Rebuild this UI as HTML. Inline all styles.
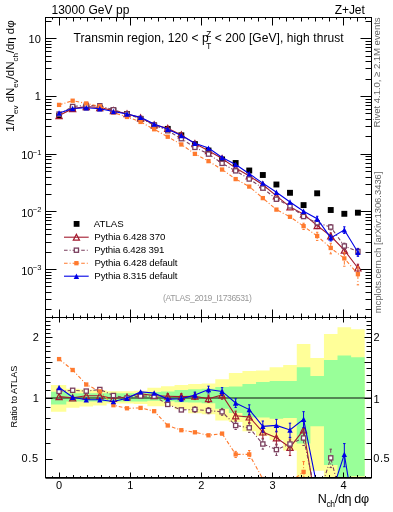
<!DOCTYPE html>
<html><head><meta charset="utf-8"><style>
html,body{margin:0;padding:0;background:#fff;}
svg{display:block;will-change:transform;font-family:"Liberation Sans",sans-serif;}
text{fill-opacity:1;}
</style></head><body>
<svg width="393" height="512" viewBox="0 0 393 512">
<rect width="393" height="512" fill="#fff"/>
<defs>
<clipPath id="ct"><rect x="45.5" y="17.5" width="326.0" height="300.0"/></clipPath>
<clipPath id="cr"><rect x="45.5" y="317.5" width="326.0" height="160.0"/></clipPath>
</defs>
<path d="M51.00,384.96H66.30V388.83H79.46V389.47H93.04V390.19H106.62V391.24H120.21V391.24H133.79V390.67H147.37V387.73H160.96V386.18H174.54V384.88H188.12V383.98H201.70V383.38H215.29V379.31H228.87V372.94H242.45V370.99H256.04V370.60H269.62V367.19H283.20V364.93H296.79V343.95H310.37V358.03H323.95V334.08H337.53V327.14H351.12V329.13H364.70V477.50H351.12V477.50H337.53V477.50H323.95V470.73H310.37V477.50H296.79V450.52H283.20V440.00H269.62V435.85H256.04V431.24H242.45V422.11H228.87V420.51H215.29V414.37H201.70V413.32H188.12V409.23H174.54V406.29H160.96V406.29H147.37V404.00H133.79V403.44H120.21V403.44H106.62V405.52H93.04V406.48H79.46V407.75H66.30V411.76H51.00Z" fill="#ffff99"/>
<path d="M51.00,391.81H66.30V393.30H79.46V393.30H93.04V393.30H106.62V393.30H120.21V393.30H133.79V393.30H147.37V391.97H160.96V391.40H174.54V389.95H188.12V389.23H201.70V388.83H215.29V387.11H228.87V386.49H242.45V383.91H256.04V381.98H269.62V380.89H283.20V380.89H296.79V367.19H310.37V375.90H323.95V360.06H337.53V355.62H351.12V357.26H364.70V476.33H351.12V477.50H337.53V465.09H323.95V426.25H310.37V443.62H296.79V418.05H283.20V418.71H269.62V417.60H256.04V417.60H242.45V413.01H228.87V408.73H215.29V403.16H201.70V402.60H188.12V402.23H174.54V401.22H160.96V400.68H147.37V401.40H133.79V401.40H120.21V401.40H106.62V401.40H93.04V401.40H79.46V401.40H66.30V404.47H51.00Z" fill="#99ff99"/>
<line x1="45.5" y1="398" x2="371.5" y2="398" stroke="#111" stroke-width="1.2"/>
<rect x="56.13" y="113.05" width="5.90" height="5.90" fill="#000"/>
<rect x="69.72" y="105.75" width="5.90" height="5.90" fill="#000"/>
<rect x="83.30" y="104.35" width="5.90" height="5.90" fill="#000"/>
<rect x="96.88" y="105.25" width="5.90" height="5.90" fill="#000"/>
<rect x="110.47" y="107.55" width="5.90" height="5.90" fill="#000"/>
<rect x="124.05" y="111.05" width="5.90" height="5.90" fill="#000"/>
<rect x="137.63" y="116.15" width="5.90" height="5.90" fill="#000"/>
<rect x="151.21" y="122.55" width="5.90" height="5.90" fill="#000"/>
<rect x="164.80" y="125.95" width="5.90" height="5.90" fill="#000"/>
<rect x="178.38" y="132.35" width="5.90" height="5.90" fill="#000"/>
<rect x="191.96" y="141.15" width="5.90" height="5.90" fill="#000"/>
<rect x="205.55" y="147.55" width="5.90" height="5.90" fill="#000"/>
<rect x="219.13" y="156.45" width="5.90" height="5.90" fill="#000"/>
<rect x="232.71" y="160.05" width="5.90" height="5.90" fill="#000"/>
<rect x="246.30" y="167.55" width="5.90" height="5.90" fill="#000"/>
<rect x="259.88" y="172.05" width="5.90" height="5.90" fill="#000"/>
<rect x="273.46" y="181.55" width="5.90" height="5.90" fill="#000"/>
<rect x="287.04" y="189.85" width="5.90" height="5.90" fill="#000"/>
<rect x="300.63" y="202.15" width="5.90" height="5.90" fill="#000"/>
<rect x="314.21" y="190.35" width="5.90" height="5.90" fill="#000"/>
<rect x="327.79" y="207.05" width="5.90" height="5.90" fill="#000"/>
<rect x="341.38" y="210.85" width="5.90" height="5.90" fill="#000"/>
<rect x="354.96" y="209.75" width="5.90" height="5.90" fill="#000"/>
<g clip-path="url(#ct)">
<path d="M59.08,115.60 L72.67,108.64 L86.25,106.67 L99.83,107.57 L113.42,110.64 L127.00,113.71 L140.58,117.87 L154.16,124.82 L167.75,128.39 L181.33,134.90 L194.91,143.59 L208.50,150.70 L222.08,158.52 L235.66,168.08 L249.25,175.92 L262.83,184.70 L276.41,195.85 L289.99,206.89 L303.58,214.17 L317.16,225.60 L330.74,236.00 L344.33,250.20 L357.91,268.00" fill="none" stroke="#a31a2e" stroke-width="1.1"/>
<path d="M303.58,211.78V216.81M302.38,211.78h2.4M302.38,216.81h2.4M317.16,222.92V228.60M315.96,222.92h2.4M315.96,228.60h2.4M330.74,232.99V239.42M329.54,232.99h2.4M329.54,239.42h2.4M344.33,246.82V254.10M343.13,246.82h2.4M343.13,254.10h2.4M357.91,264.22V272.46M356.71,264.22h2.4M356.71,272.46h2.4" fill="none" stroke="#a31a2e" stroke-width="1"/>
<polygon points="55.98,118.60 62.18,118.60 59.08,112.60" fill="none" stroke="#a31a2e" stroke-width="1.2"/>
<polygon points="69.57,111.64 75.77,111.64 72.67,105.64" fill="none" stroke="#a31a2e" stroke-width="1.2"/>
<polygon points="83.15,109.67 89.35,109.67 86.25,103.67" fill="none" stroke="#a31a2e" stroke-width="1.2"/>
<polygon points="96.73,110.57 102.93,110.57 99.83,104.57" fill="none" stroke="#a31a2e" stroke-width="1.2"/>
<polygon points="110.32,113.64 116.52,113.64 113.42,107.64" fill="none" stroke="#a31a2e" stroke-width="1.2"/>
<polygon points="123.90,116.71 130.10,116.71 127.00,110.71" fill="none" stroke="#a31a2e" stroke-width="1.2"/>
<polygon points="137.48,120.87 143.68,120.87 140.58,114.87" fill="none" stroke="#a31a2e" stroke-width="1.2"/>
<polygon points="151.06,127.82 157.26,127.82 154.16,121.82" fill="none" stroke="#a31a2e" stroke-width="1.2"/>
<polygon points="164.65,131.39 170.85,131.39 167.75,125.39" fill="none" stroke="#a31a2e" stroke-width="1.2"/>
<polygon points="178.23,137.90 184.43,137.90 181.33,131.90" fill="none" stroke="#a31a2e" stroke-width="1.2"/>
<polygon points="191.81,146.59 198.01,146.59 194.91,140.59" fill="none" stroke="#a31a2e" stroke-width="1.2"/>
<polygon points="205.40,153.70 211.60,153.70 208.50,147.70" fill="none" stroke="#a31a2e" stroke-width="1.2"/>
<polygon points="218.98,161.52 225.18,161.52 222.08,155.52" fill="none" stroke="#a31a2e" stroke-width="1.2"/>
<polygon points="232.56,171.08 238.76,171.08 235.66,165.08" fill="none" stroke="#a31a2e" stroke-width="1.2"/>
<polygon points="246.15,178.92 252.34,178.92 249.25,172.92" fill="none" stroke="#a31a2e" stroke-width="1.2"/>
<polygon points="259.73,187.70 265.93,187.70 262.83,181.70" fill="none" stroke="#a31a2e" stroke-width="1.2"/>
<polygon points="273.31,198.85 279.51,198.85 276.41,192.85" fill="none" stroke="#a31a2e" stroke-width="1.2"/>
<polygon points="286.89,209.89 293.09,209.89 289.99,203.89" fill="none" stroke="#a31a2e" stroke-width="1.2"/>
<polygon points="300.48,217.17 306.68,217.17 303.58,211.17" fill="none" stroke="#a31a2e" stroke-width="1.2"/>
<polygon points="314.06,228.60 320.26,228.60 317.16,222.60" fill="none" stroke="#a31a2e" stroke-width="1.2"/>
<polygon points="327.64,239.00 333.84,239.00 330.74,233.00" fill="none" stroke="#a31a2e" stroke-width="1.2"/>
<polygon points="341.23,253.20 347.43,253.20 344.33,247.20" fill="none" stroke="#a31a2e" stroke-width="1.2"/>
<polygon points="354.81,271.00 361.01,271.00 357.91,265.00" fill="none" stroke="#a31a2e" stroke-width="1.2"/>
</g>
<g clip-path="url(#ct)">
<path d="M59.08,114.12 L72.67,106.50 L86.25,105.33 L99.83,105.78 L113.42,109.79 L127.00,114.00 L140.58,118.53 L154.16,125.02 L167.75,130.73 L181.33,138.69 L194.91,147.38 L208.50,154.09 L222.08,163.34 L235.66,170.84 L249.25,179.00 L262.83,188.12 L276.41,199.22 L289.99,205.92 L303.58,216.51 L317.16,222.80 L330.74,227.08 L344.33,246.00 L357.91,251.50" fill="none" stroke="#7a3f5e" stroke-width="1.1" stroke-dasharray="3.6,2,1,2"/>
<path d="M330.74,224.60V229.85M329.54,224.60h2.4M329.54,229.85h2.4M344.33,243.20V249.15M343.13,243.20h2.4M343.13,249.15h2.4M357.91,248.36V255.09M356.71,248.36h2.4M356.71,255.09h2.4" fill="none" stroke="#7a3f5e" stroke-width="1" stroke-dasharray="3.6,2,1,2"/>
<rect x="56.98" y="112.02" width="4.20" height="4.20" fill="#fff" stroke="#7a3f5e" stroke-width="1.3"/>
<rect x="70.57" y="104.40" width="4.20" height="4.20" fill="#fff" stroke="#7a3f5e" stroke-width="1.3"/>
<rect x="84.15" y="103.23" width="4.20" height="4.20" fill="#fff" stroke="#7a3f5e" stroke-width="1.3"/>
<rect x="97.73" y="103.68" width="4.20" height="4.20" fill="#fff" stroke="#7a3f5e" stroke-width="1.3"/>
<rect x="111.32" y="107.69" width="4.20" height="4.20" fill="#fff" stroke="#7a3f5e" stroke-width="1.3"/>
<rect x="124.90" y="111.90" width="4.20" height="4.20" fill="#fff" stroke="#7a3f5e" stroke-width="1.3"/>
<rect x="138.48" y="116.43" width="4.20" height="4.20" fill="#fff" stroke="#7a3f5e" stroke-width="1.3"/>
<rect x="152.06" y="122.92" width="4.20" height="4.20" fill="#fff" stroke="#7a3f5e" stroke-width="1.3"/>
<rect x="165.65" y="128.63" width="4.20" height="4.20" fill="#fff" stroke="#7a3f5e" stroke-width="1.3"/>
<rect x="179.23" y="136.59" width="4.20" height="4.20" fill="#fff" stroke="#7a3f5e" stroke-width="1.3"/>
<rect x="192.81" y="145.28" width="4.20" height="4.20" fill="#fff" stroke="#7a3f5e" stroke-width="1.3"/>
<rect x="206.40" y="151.99" width="4.20" height="4.20" fill="#fff" stroke="#7a3f5e" stroke-width="1.3"/>
<rect x="219.98" y="161.24" width="4.20" height="4.20" fill="#fff" stroke="#7a3f5e" stroke-width="1.3"/>
<rect x="233.56" y="168.74" width="4.20" height="4.20" fill="#fff" stroke="#7a3f5e" stroke-width="1.3"/>
<rect x="247.15" y="176.90" width="4.20" height="4.20" fill="#fff" stroke="#7a3f5e" stroke-width="1.3"/>
<rect x="260.73" y="186.02" width="4.20" height="4.20" fill="#fff" stroke="#7a3f5e" stroke-width="1.3"/>
<rect x="274.31" y="197.12" width="4.20" height="4.20" fill="#fff" stroke="#7a3f5e" stroke-width="1.3"/>
<rect x="287.89" y="203.82" width="4.20" height="4.20" fill="#fff" stroke="#7a3f5e" stroke-width="1.3"/>
<rect x="301.48" y="214.41" width="4.20" height="4.20" fill="#fff" stroke="#7a3f5e" stroke-width="1.3"/>
<rect x="315.06" y="220.70" width="4.20" height="4.20" fill="#fff" stroke="#7a3f5e" stroke-width="1.3"/>
<rect x="328.64" y="224.98" width="4.20" height="4.20" fill="#fff" stroke="#7a3f5e" stroke-width="1.3"/>
<rect x="342.23" y="243.90" width="4.20" height="4.20" fill="#fff" stroke="#7a3f5e" stroke-width="1.3"/>
<rect x="355.81" y="249.40" width="4.20" height="4.20" fill="#fff" stroke="#7a3f5e" stroke-width="1.3"/>
</g>
<g clip-path="url(#ct)">
<path d="M59.08,104.90 L72.67,100.71 L86.25,103.45 L99.83,106.32 L113.42,112.55 L127.00,116.94 L140.58,121.92 L154.16,129.26 L167.75,136.74 L181.33,144.48 L194.91,153.88 L208.50,161.14 L222.08,169.55 L235.66,179.09 L249.25,186.59 L262.83,198.10 L276.41,209.60 L289.99,216.80 L303.58,226.18 L317.16,236.00 L330.74,248.00 L344.33,258.40 L357.91,274.20" fill="none" stroke="#ff7a2e" stroke-width="1.1" stroke-dasharray="3.6,2,1,2"/>
<path d="M303.58,223.23V229.52M302.38,223.23h2.4M302.38,229.52h2.4M317.16,232.25V240.41M315.96,232.25h2.4M315.96,240.41h2.4M330.74,243.26V253.84M329.54,243.26h2.4M329.54,253.84h2.4M344.33,252.44V266.23M343.13,252.44h2.4M343.13,266.23h2.4M357.91,266.75V284.85M356.71,266.75h2.4M356.71,284.85h2.4" fill="none" stroke="#ff7a2e" stroke-width="1" stroke-dasharray="3.6,2,1,2"/>
<rect x="56.93" y="102.75" width="4.30" height="4.30" fill="#ff7a2e"/>
<rect x="70.52" y="98.56" width="4.30" height="4.30" fill="#ff7a2e"/>
<rect x="84.10" y="101.30" width="4.30" height="4.30" fill="#ff7a2e"/>
<rect x="97.68" y="104.17" width="4.30" height="4.30" fill="#ff7a2e"/>
<rect x="111.27" y="110.40" width="4.30" height="4.30" fill="#ff7a2e"/>
<rect x="124.85" y="114.79" width="4.30" height="4.30" fill="#ff7a2e"/>
<rect x="138.43" y="119.77" width="4.30" height="4.30" fill="#ff7a2e"/>
<rect x="152.01" y="127.11" width="4.30" height="4.30" fill="#ff7a2e"/>
<rect x="165.60" y="134.59" width="4.30" height="4.30" fill="#ff7a2e"/>
<rect x="179.18" y="142.33" width="4.30" height="4.30" fill="#ff7a2e"/>
<rect x="192.76" y="151.73" width="4.30" height="4.30" fill="#ff7a2e"/>
<rect x="206.35" y="158.99" width="4.30" height="4.30" fill="#ff7a2e"/>
<rect x="219.93" y="167.40" width="4.30" height="4.30" fill="#ff7a2e"/>
<rect x="233.51" y="176.94" width="4.30" height="4.30" fill="#ff7a2e"/>
<rect x="247.09" y="184.44" width="4.30" height="4.30" fill="#ff7a2e"/>
<rect x="260.68" y="195.95" width="4.30" height="4.30" fill="#ff7a2e"/>
<rect x="274.26" y="207.45" width="4.30" height="4.30" fill="#ff7a2e"/>
<rect x="287.84" y="214.65" width="4.30" height="4.30" fill="#ff7a2e"/>
<rect x="301.43" y="224.03" width="4.30" height="4.30" fill="#ff7a2e"/>
<rect x="315.01" y="233.85" width="4.30" height="4.30" fill="#ff7a2e"/>
<rect x="328.59" y="245.85" width="4.30" height="4.30" fill="#ff7a2e"/>
<rect x="342.18" y="256.25" width="4.30" height="4.30" fill="#ff7a2e"/>
<rect x="355.76" y="272.05" width="4.30" height="4.30" fill="#ff7a2e"/>
</g>
<g clip-path="url(#ct)">
<path d="M59.08,113.01 L72.67,108.50 L86.25,107.78 L99.83,108.68 L113.42,111.50 L127.00,114.06 L140.58,117.36 L154.16,124.07 L167.75,129.21 L181.33,135.50 L194.91,143.24 L208.50,148.08 L222.08,157.52 L235.66,164.43 L249.25,173.81 L262.83,183.10 L276.41,192.32 L289.99,201.93 L303.58,211.18 L317.16,218.70 L330.74,237.90 L344.33,229.89 L357.91,252.30" fill="none" stroke="#0000e6" stroke-width="1.1"/>
<path d="M317.16,216.25V221.42M315.96,216.25h2.4M315.96,221.42h2.4M330.74,235.15V240.99M329.54,235.15h2.4M329.54,240.99h2.4M344.33,226.80V233.41M343.13,226.80h2.4M343.13,233.41h2.4M357.91,248.84V256.32M356.71,248.84h2.4M356.71,256.32h2.4" fill="none" stroke="#0000e6" stroke-width="1"/>
<polygon points="56.38,115.71 61.78,115.71 59.08,110.31" fill="#0000e6"/>
<polygon points="69.97,111.20 75.37,111.20 72.67,105.80" fill="#0000e6"/>
<polygon points="83.55,110.48 88.95,110.48 86.25,105.08" fill="#0000e6"/>
<polygon points="97.13,111.38 102.53,111.38 99.83,105.98" fill="#0000e6"/>
<polygon points="110.72,114.20 116.12,114.20 113.42,108.80" fill="#0000e6"/>
<polygon points="124.30,116.76 129.70,116.76 127.00,111.36" fill="#0000e6"/>
<polygon points="137.88,120.06 143.28,120.06 140.58,114.66" fill="#0000e6"/>
<polygon points="151.46,126.77 156.86,126.77 154.16,121.37" fill="#0000e6"/>
<polygon points="165.05,131.91 170.45,131.91 167.75,126.51" fill="#0000e6"/>
<polygon points="178.63,138.20 184.03,138.20 181.33,132.80" fill="#0000e6"/>
<polygon points="192.21,145.94 197.61,145.94 194.91,140.54" fill="#0000e6"/>
<polygon points="205.80,150.78 211.20,150.78 208.50,145.38" fill="#0000e6"/>
<polygon points="219.38,160.22 224.78,160.22 222.08,154.82" fill="#0000e6"/>
<polygon points="232.96,167.13 238.36,167.13 235.66,161.73" fill="#0000e6"/>
<polygon points="246.55,176.51 251.94,176.51 249.25,171.11" fill="#0000e6"/>
<polygon points="260.13,185.80 265.53,185.80 262.83,180.40" fill="#0000e6"/>
<polygon points="273.71,195.02 279.11,195.02 276.41,189.62" fill="#0000e6"/>
<polygon points="287.29,204.63 292.69,204.63 289.99,199.23" fill="#0000e6"/>
<polygon points="300.88,213.88 306.28,213.88 303.58,208.48" fill="#0000e6"/>
<polygon points="314.46,221.40 319.86,221.40 317.16,216.00" fill="#0000e6"/>
<polygon points="328.04,240.60 333.44,240.60 330.74,235.20" fill="#0000e6"/>
<polygon points="341.63,232.59 347.03,232.59 344.33,227.19" fill="#0000e6"/>
<polygon points="355.21,255.00 360.61,255.00 357.91,249.60" fill="#0000e6"/>
</g>
<g clip-path="url(#cr)">
<path d="M59.08,396.60 L72.67,397.80 L86.25,395.80 L99.83,395.80 L113.42,398.50 L127.00,397.00 L140.58,393.70 L154.16,395.60 L167.75,396.20 L181.33,396.60 L194.91,396.20 L208.50,398.70 L222.08,394.90 L235.66,415.80 L249.25,417.00 L262.83,432.00 L276.41,437.80 L289.99,447.40 L303.58,429.80 L317.16,511.24 L330.74,489.16 L344.33,525.62 L357.91,591.88" fill="none" stroke="#a31a2e" stroke-width="1.1"/>
<path d="M167.75,393.65V398.83M166.55,393.65h2.4M166.55,398.83h2.4M181.33,393.72V399.57M180.13,393.72h2.4M180.13,399.57h2.4M194.91,392.96V399.57M193.71,392.96h2.4M193.71,399.57h2.4M208.50,395.04V402.52M207.30,395.04h2.4M207.30,402.52h2.4M222.08,390.78V399.22M220.88,390.78h2.4M220.88,399.22h2.4M235.66,411.16V420.70M234.46,411.16h2.4M234.46,420.70h2.4M249.25,411.77V422.56M248.05,411.77h2.4M248.05,422.56h2.4M262.83,426.11V438.31M261.63,426.11h2.4M261.63,438.31h2.4M276.41,431.18V444.96M275.21,431.18h2.4M275.21,444.96h2.4M289.99,439.95V455.54M288.79,439.95h2.4M288.79,455.54h2.4M303.58,421.43V439.06M302.38,421.43h2.4M302.38,439.06h2.4" fill="none" stroke="#a31a2e" stroke-width="1"/>
<polygon points="55.98,399.60 62.18,399.60 59.08,393.60" fill="none" stroke="#a31a2e" stroke-width="1.2"/>
<polygon points="69.57,400.80 75.77,400.80 72.67,394.80" fill="none" stroke="#a31a2e" stroke-width="1.2"/>
<polygon points="83.15,398.80 89.35,398.80 86.25,392.80" fill="none" stroke="#a31a2e" stroke-width="1.2"/>
<polygon points="96.73,398.80 102.93,398.80 99.83,392.80" fill="none" stroke="#a31a2e" stroke-width="1.2"/>
<polygon points="110.32,401.50 116.52,401.50 113.42,395.50" fill="none" stroke="#a31a2e" stroke-width="1.2"/>
<polygon points="123.90,400.00 130.10,400.00 127.00,394.00" fill="none" stroke="#a31a2e" stroke-width="1.2"/>
<polygon points="137.48,396.70 143.68,396.70 140.58,390.70" fill="none" stroke="#a31a2e" stroke-width="1.2"/>
<polygon points="151.06,398.60 157.26,398.60 154.16,392.60" fill="none" stroke="#a31a2e" stroke-width="1.2"/>
<polygon points="164.65,399.20 170.85,399.20 167.75,393.20" fill="none" stroke="#a31a2e" stroke-width="1.2"/>
<polygon points="178.23,399.60 184.43,399.60 181.33,393.60" fill="none" stroke="#a31a2e" stroke-width="1.2"/>
<polygon points="191.81,399.20 198.01,399.20 194.91,393.20" fill="none" stroke="#a31a2e" stroke-width="1.2"/>
<polygon points="205.40,401.70 211.60,401.70 208.50,395.70" fill="none" stroke="#a31a2e" stroke-width="1.2"/>
<polygon points="218.98,397.90 225.18,397.90 222.08,391.90" fill="none" stroke="#a31a2e" stroke-width="1.2"/>
<polygon points="232.56,418.80 238.76,418.80 235.66,412.80" fill="none" stroke="#a31a2e" stroke-width="1.2"/>
<polygon points="246.15,420.00 252.34,420.00 249.25,414.00" fill="none" stroke="#a31a2e" stroke-width="1.2"/>
<polygon points="259.73,435.00 265.93,435.00 262.83,429.00" fill="none" stroke="#a31a2e" stroke-width="1.2"/>
<polygon points="273.31,440.80 279.51,440.80 276.41,434.80" fill="none" stroke="#a31a2e" stroke-width="1.2"/>
<polygon points="286.89,450.40 293.09,450.40 289.99,444.40" fill="none" stroke="#a31a2e" stroke-width="1.2"/>
<polygon points="300.48,432.80 306.68,432.80 303.58,426.80" fill="none" stroke="#a31a2e" stroke-width="1.2"/>
</g>
<g clip-path="url(#cr)">
<path d="M59.08,391.40 L72.67,390.30 L86.25,391.10 L99.83,389.50 L113.42,395.50 L127.00,398.00 L140.58,396.00 L154.16,396.30 L167.75,404.40 L181.33,409.90 L194.91,409.50 L208.50,410.60 L222.08,411.80 L235.66,425.50 L249.25,427.80 L262.83,444.00 L276.41,449.60 L289.99,444.00 L303.58,438.00 L317.16,501.43 L330.74,457.90 L344.33,510.89 L357.91,534.03" fill="none" stroke="#7a3f5e" stroke-width="1.1" stroke-dasharray="3.6,2,1,2"/>
<path d="M194.91,406.84V412.25M193.71,406.84h2.4M193.71,412.25h2.4M208.50,407.60V413.71M207.30,407.60h2.4M207.30,413.71h2.4M222.08,408.41V415.32M220.88,408.41h2.4M220.88,415.32h2.4M235.66,421.68V429.49M234.46,421.68h2.4M234.46,429.49h2.4M249.25,423.50V432.32M248.05,423.50h2.4M248.05,432.32h2.4M262.83,439.15V449.13M261.63,439.15h2.4M261.63,449.13h2.4M276.41,444.14V455.42M275.21,444.14h2.4M275.21,455.42h2.4M289.99,437.86V450.60M288.79,437.86h2.4M288.79,450.60h2.4M303.58,431.09V445.50M302.38,431.09h2.4M302.38,445.50h2.4M330.74,449.17V467.59M329.54,449.17h2.4M329.54,467.59h2.4" fill="none" stroke="#7a3f5e" stroke-width="1" stroke-dasharray="3.6,2,1,2"/>
<rect x="56.98" y="389.30" width="4.20" height="4.20" fill="#fff" stroke="#7a3f5e" stroke-width="1.3"/>
<rect x="70.57" y="388.20" width="4.20" height="4.20" fill="#fff" stroke="#7a3f5e" stroke-width="1.3"/>
<rect x="84.15" y="389.00" width="4.20" height="4.20" fill="#fff" stroke="#7a3f5e" stroke-width="1.3"/>
<rect x="97.73" y="387.40" width="4.20" height="4.20" fill="#fff" stroke="#7a3f5e" stroke-width="1.3"/>
<rect x="111.32" y="393.40" width="4.20" height="4.20" fill="#fff" stroke="#7a3f5e" stroke-width="1.3"/>
<rect x="124.90" y="395.90" width="4.20" height="4.20" fill="#fff" stroke="#7a3f5e" stroke-width="1.3"/>
<rect x="138.48" y="393.90" width="4.20" height="4.20" fill="#fff" stroke="#7a3f5e" stroke-width="1.3"/>
<rect x="152.06" y="394.20" width="4.20" height="4.20" fill="#fff" stroke="#7a3f5e" stroke-width="1.3"/>
<rect x="165.65" y="402.30" width="4.20" height="4.20" fill="#fff" stroke="#7a3f5e" stroke-width="1.3"/>
<rect x="179.23" y="407.80" width="4.20" height="4.20" fill="#fff" stroke="#7a3f5e" stroke-width="1.3"/>
<rect x="192.81" y="407.40" width="4.20" height="4.20" fill="#fff" stroke="#7a3f5e" stroke-width="1.3"/>
<rect x="206.40" y="408.50" width="4.20" height="4.20" fill="#fff" stroke="#7a3f5e" stroke-width="1.3"/>
<rect x="219.98" y="409.70" width="4.20" height="4.20" fill="#fff" stroke="#7a3f5e" stroke-width="1.3"/>
<rect x="233.56" y="423.40" width="4.20" height="4.20" fill="#fff" stroke="#7a3f5e" stroke-width="1.3"/>
<rect x="247.15" y="425.70" width="4.20" height="4.20" fill="#fff" stroke="#7a3f5e" stroke-width="1.3"/>
<rect x="260.73" y="441.90" width="4.20" height="4.20" fill="#fff" stroke="#7a3f5e" stroke-width="1.3"/>
<rect x="274.31" y="447.50" width="4.20" height="4.20" fill="#fff" stroke="#7a3f5e" stroke-width="1.3"/>
<rect x="287.89" y="441.90" width="4.20" height="4.20" fill="#fff" stroke="#7a3f5e" stroke-width="1.3"/>
<rect x="301.48" y="435.90" width="4.20" height="4.20" fill="#fff" stroke="#7a3f5e" stroke-width="1.3"/>
<rect x="328.64" y="455.80" width="4.20" height="4.20" fill="#fff" stroke="#7a3f5e" stroke-width="1.3"/>
</g>
<g clip-path="url(#cr)">
<path d="M59.08,359.10 L72.67,370.00 L86.25,384.50 L99.83,391.40 L113.42,405.20 L127.00,408.30 L140.58,407.90 L154.16,411.20 L167.75,425.50 L181.33,430.20 L194.91,432.30 L208.50,435.30 L222.08,433.60 L235.66,454.40 L249.25,454.40 L262.83,478.99 L276.41,486.00 L289.99,482.14 L303.58,471.90 L317.16,547.71 L330.74,531.23 L344.33,554.37 L357.91,613.62" fill="none" stroke="#ff7a2e" stroke-width="1.1" stroke-dasharray="3.6,2,1,2"/>
<path d="M235.66,451.38V457.53M234.46,451.38h2.4M234.46,457.53h2.4M249.25,450.52V458.46M248.05,450.52h2.4M248.05,458.46h2.4M303.58,461.55V483.63M302.38,461.55h2.4M302.38,483.63h2.4" fill="none" stroke="#ff7a2e" stroke-width="1" stroke-dasharray="3.6,2,1,2"/>
<rect x="56.93" y="356.95" width="4.30" height="4.30" fill="#ff7a2e"/>
<rect x="70.52" y="367.85" width="4.30" height="4.30" fill="#ff7a2e"/>
<rect x="84.10" y="382.35" width="4.30" height="4.30" fill="#ff7a2e"/>
<rect x="97.68" y="389.25" width="4.30" height="4.30" fill="#ff7a2e"/>
<rect x="111.27" y="403.05" width="4.30" height="4.30" fill="#ff7a2e"/>
<rect x="124.85" y="406.15" width="4.30" height="4.30" fill="#ff7a2e"/>
<rect x="138.43" y="405.75" width="4.30" height="4.30" fill="#ff7a2e"/>
<rect x="152.01" y="409.05" width="4.30" height="4.30" fill="#ff7a2e"/>
<rect x="165.60" y="423.35" width="4.30" height="4.30" fill="#ff7a2e"/>
<rect x="179.18" y="428.05" width="4.30" height="4.30" fill="#ff7a2e"/>
<rect x="192.76" y="430.15" width="4.30" height="4.30" fill="#ff7a2e"/>
<rect x="206.35" y="433.15" width="4.30" height="4.30" fill="#ff7a2e"/>
<rect x="219.93" y="431.45" width="4.30" height="4.30" fill="#ff7a2e"/>
<rect x="233.51" y="452.25" width="4.30" height="4.30" fill="#ff7a2e"/>
<rect x="247.09" y="452.25" width="4.30" height="4.30" fill="#ff7a2e"/>
<rect x="260.68" y="476.84" width="4.30" height="4.30" fill="#ff7a2e"/>
<rect x="274.26" y="483.85" width="4.30" height="4.30" fill="#ff7a2e"/>
<rect x="287.84" y="479.99" width="4.30" height="4.30" fill="#ff7a2e"/>
<rect x="301.43" y="469.75" width="4.30" height="4.30" fill="#ff7a2e"/>
</g>
<g clip-path="url(#cr)">
<path d="M59.08,387.50 L72.67,397.30 L86.25,399.70 L99.83,399.70 L113.42,401.50 L127.00,398.20 L140.58,391.90 L154.16,393.00 L167.75,399.10 L181.33,398.70 L194.91,395.00 L208.50,389.50 L222.08,391.40 L235.66,403.00 L249.25,409.60 L262.83,426.40 L276.41,425.40 L289.99,430.00 L303.58,419.30 L317.16,487.05 L330.74,495.82 L344.33,454.40 L357.91,536.84" fill="none" stroke="#0000e6" stroke-width="1.1"/>
<path d="M181.33,396.08V401.40M180.13,396.08h2.4M180.13,401.40h2.4M194.91,392.05V398.06M193.71,392.05h2.4M193.71,398.06h2.4M208.50,386.17V392.96M207.30,386.17h2.4M207.30,392.96h2.4M222.08,387.65V395.32M220.88,387.65h2.4M220.88,395.32h2.4M235.66,398.77V407.45M234.46,398.77h2.4M234.46,407.45h2.4M249.25,404.83V414.64M248.05,404.83h2.4M248.05,414.64h2.4M262.83,421.03V432.12M261.63,421.03h2.4M261.63,432.12h2.4M276.41,419.36V431.89M275.21,419.36h2.4M275.21,431.89h2.4M289.99,423.20V437.37M288.79,423.20h2.4M288.79,437.37h2.4M303.58,411.66V427.67M302.38,411.66h2.4M302.38,427.67h2.4M344.33,443.57V466.75M343.13,443.57h2.4M343.13,466.75h2.4" fill="none" stroke="#0000e6" stroke-width="1"/>
<polygon points="56.38,390.20 61.78,390.20 59.08,384.80" fill="#0000e6"/>
<polygon points="69.97,400.00 75.37,400.00 72.67,394.60" fill="#0000e6"/>
<polygon points="83.55,402.40 88.95,402.40 86.25,397.00" fill="#0000e6"/>
<polygon points="97.13,402.40 102.53,402.40 99.83,397.00" fill="#0000e6"/>
<polygon points="110.72,404.20 116.12,404.20 113.42,398.80" fill="#0000e6"/>
<polygon points="124.30,400.90 129.70,400.90 127.00,395.50" fill="#0000e6"/>
<polygon points="137.88,394.60 143.28,394.60 140.58,389.20" fill="#0000e6"/>
<polygon points="151.46,395.70 156.86,395.70 154.16,390.30" fill="#0000e6"/>
<polygon points="165.05,401.80 170.45,401.80 167.75,396.40" fill="#0000e6"/>
<polygon points="178.63,401.40 184.03,401.40 181.33,396.00" fill="#0000e6"/>
<polygon points="192.21,397.70 197.61,397.70 194.91,392.30" fill="#0000e6"/>
<polygon points="205.80,392.20 211.20,392.20 208.50,386.80" fill="#0000e6"/>
<polygon points="219.38,394.10 224.78,394.10 222.08,388.70" fill="#0000e6"/>
<polygon points="232.96,405.70 238.36,405.70 235.66,400.30" fill="#0000e6"/>
<polygon points="246.55,412.30 251.94,412.30 249.25,406.90" fill="#0000e6"/>
<polygon points="260.13,429.10 265.53,429.10 262.83,423.70" fill="#0000e6"/>
<polygon points="273.71,428.10 279.11,428.10 276.41,422.70" fill="#0000e6"/>
<polygon points="287.29,432.70 292.69,432.70 289.99,427.30" fill="#0000e6"/>
<polygon points="300.88,422.00 306.28,422.00 303.58,416.60" fill="#0000e6"/>
<polygon points="314.46,489.75 319.86,489.75 317.16,484.35" fill="#0000e6"/>
<polygon points="341.63,457.10 347.03,457.10 344.33,451.70" fill="#0000e6"/>
</g>
<line x1="52.50" y1="17.50" x2="52.50" y2="19.50" stroke="#000" stroke-width="1.0"/>
<line x1="52.50" y1="317.50" x2="52.50" y2="315.50" stroke="#000" stroke-width="1.0"/>
<line x1="52.50" y1="317.50" x2="52.50" y2="318.80" stroke="#000" stroke-width="1.0"/>
<line x1="52.50" y1="477.50" x2="52.50" y2="476.20" stroke="#000" stroke-width="1.0"/>
<line x1="59.50" y1="17.50" x2="59.50" y2="25.50" stroke="#000" stroke-width="1.0"/>
<line x1="59.50" y1="317.50" x2="59.50" y2="309.50" stroke="#000" stroke-width="1.0"/>
<line x1="59.50" y1="317.50" x2="59.50" y2="322.50" stroke="#000" stroke-width="1.0"/>
<line x1="59.50" y1="477.50" x2="59.50" y2="472.50" stroke="#000" stroke-width="1.0"/>
<line x1="66.50" y1="17.50" x2="66.50" y2="19.50" stroke="#000" stroke-width="1.0"/>
<line x1="66.50" y1="317.50" x2="66.50" y2="315.50" stroke="#000" stroke-width="1.0"/>
<line x1="66.50" y1="317.50" x2="66.50" y2="318.80" stroke="#000" stroke-width="1.0"/>
<line x1="66.50" y1="477.50" x2="66.50" y2="476.20" stroke="#000" stroke-width="1.0"/>
<line x1="73.50" y1="17.50" x2="73.50" y2="21.50" stroke="#000" stroke-width="1.0"/>
<line x1="73.50" y1="317.50" x2="73.50" y2="313.50" stroke="#000" stroke-width="1.0"/>
<line x1="73.50" y1="317.50" x2="73.50" y2="320.00" stroke="#000" stroke-width="1.0"/>
<line x1="73.50" y1="477.50" x2="73.50" y2="475.00" stroke="#000" stroke-width="1.0"/>
<line x1="80.50" y1="17.50" x2="80.50" y2="19.50" stroke="#000" stroke-width="1.0"/>
<line x1="80.50" y1="317.50" x2="80.50" y2="315.50" stroke="#000" stroke-width="1.0"/>
<line x1="80.50" y1="317.50" x2="80.50" y2="318.80" stroke="#000" stroke-width="1.0"/>
<line x1="80.50" y1="477.50" x2="80.50" y2="476.20" stroke="#000" stroke-width="1.0"/>
<line x1="87.50" y1="17.50" x2="87.50" y2="21.50" stroke="#000" stroke-width="1.0"/>
<line x1="87.50" y1="317.50" x2="87.50" y2="313.50" stroke="#000" stroke-width="1.0"/>
<line x1="87.50" y1="317.50" x2="87.50" y2="320.00" stroke="#000" stroke-width="1.0"/>
<line x1="87.50" y1="477.50" x2="87.50" y2="475.00" stroke="#000" stroke-width="1.0"/>
<line x1="94.50" y1="17.50" x2="94.50" y2="19.50" stroke="#000" stroke-width="1.0"/>
<line x1="94.50" y1="317.50" x2="94.50" y2="315.50" stroke="#000" stroke-width="1.0"/>
<line x1="94.50" y1="317.50" x2="94.50" y2="318.80" stroke="#000" stroke-width="1.0"/>
<line x1="94.50" y1="477.50" x2="94.50" y2="476.20" stroke="#000" stroke-width="1.0"/>
<line x1="101.50" y1="17.50" x2="101.50" y2="21.50" stroke="#000" stroke-width="1.0"/>
<line x1="101.50" y1="317.50" x2="101.50" y2="313.50" stroke="#000" stroke-width="1.0"/>
<line x1="101.50" y1="317.50" x2="101.50" y2="320.00" stroke="#000" stroke-width="1.0"/>
<line x1="101.50" y1="477.50" x2="101.50" y2="475.00" stroke="#000" stroke-width="1.0"/>
<line x1="109.50" y1="17.50" x2="109.50" y2="19.50" stroke="#000" stroke-width="1.0"/>
<line x1="109.50" y1="317.50" x2="109.50" y2="315.50" stroke="#000" stroke-width="1.0"/>
<line x1="109.50" y1="317.50" x2="109.50" y2="318.80" stroke="#000" stroke-width="1.0"/>
<line x1="109.50" y1="477.50" x2="109.50" y2="476.20" stroke="#000" stroke-width="1.0"/>
<line x1="116.50" y1="17.50" x2="116.50" y2="21.50" stroke="#000" stroke-width="1.0"/>
<line x1="116.50" y1="317.50" x2="116.50" y2="313.50" stroke="#000" stroke-width="1.0"/>
<line x1="116.50" y1="317.50" x2="116.50" y2="320.00" stroke="#000" stroke-width="1.0"/>
<line x1="116.50" y1="477.50" x2="116.50" y2="475.00" stroke="#000" stroke-width="1.0"/>
<line x1="123.50" y1="17.50" x2="123.50" y2="19.50" stroke="#000" stroke-width="1.0"/>
<line x1="123.50" y1="317.50" x2="123.50" y2="315.50" stroke="#000" stroke-width="1.0"/>
<line x1="123.50" y1="317.50" x2="123.50" y2="318.80" stroke="#000" stroke-width="1.0"/>
<line x1="123.50" y1="477.50" x2="123.50" y2="476.20" stroke="#000" stroke-width="1.0"/>
<line x1="130.50" y1="17.50" x2="130.50" y2="25.50" stroke="#000" stroke-width="1.0"/>
<line x1="130.50" y1="317.50" x2="130.50" y2="309.50" stroke="#000" stroke-width="1.0"/>
<line x1="130.50" y1="317.50" x2="130.50" y2="322.50" stroke="#000" stroke-width="1.0"/>
<line x1="130.50" y1="477.50" x2="130.50" y2="472.50" stroke="#000" stroke-width="1.0"/>
<line x1="137.50" y1="17.50" x2="137.50" y2="19.50" stroke="#000" stroke-width="1.0"/>
<line x1="137.50" y1="317.50" x2="137.50" y2="315.50" stroke="#000" stroke-width="1.0"/>
<line x1="137.50" y1="317.50" x2="137.50" y2="318.80" stroke="#000" stroke-width="1.0"/>
<line x1="137.50" y1="477.50" x2="137.50" y2="476.20" stroke="#000" stroke-width="1.0"/>
<line x1="144.50" y1="17.50" x2="144.50" y2="21.50" stroke="#000" stroke-width="1.0"/>
<line x1="144.50" y1="317.50" x2="144.50" y2="313.50" stroke="#000" stroke-width="1.0"/>
<line x1="144.50" y1="317.50" x2="144.50" y2="320.00" stroke="#000" stroke-width="1.0"/>
<line x1="144.50" y1="477.50" x2="144.50" y2="475.00" stroke="#000" stroke-width="1.0"/>
<line x1="151.50" y1="17.50" x2="151.50" y2="19.50" stroke="#000" stroke-width="1.0"/>
<line x1="151.50" y1="317.50" x2="151.50" y2="315.50" stroke="#000" stroke-width="1.0"/>
<line x1="151.50" y1="317.50" x2="151.50" y2="318.80" stroke="#000" stroke-width="1.0"/>
<line x1="151.50" y1="477.50" x2="151.50" y2="476.20" stroke="#000" stroke-width="1.0"/>
<line x1="158.50" y1="17.50" x2="158.50" y2="21.50" stroke="#000" stroke-width="1.0"/>
<line x1="158.50" y1="317.50" x2="158.50" y2="313.50" stroke="#000" stroke-width="1.0"/>
<line x1="158.50" y1="317.50" x2="158.50" y2="320.00" stroke="#000" stroke-width="1.0"/>
<line x1="158.50" y1="477.50" x2="158.50" y2="475.00" stroke="#000" stroke-width="1.0"/>
<line x1="165.50" y1="17.50" x2="165.50" y2="19.50" stroke="#000" stroke-width="1.0"/>
<line x1="165.50" y1="317.50" x2="165.50" y2="315.50" stroke="#000" stroke-width="1.0"/>
<line x1="165.50" y1="317.50" x2="165.50" y2="318.80" stroke="#000" stroke-width="1.0"/>
<line x1="165.50" y1="477.50" x2="165.50" y2="476.20" stroke="#000" stroke-width="1.0"/>
<line x1="173.50" y1="17.50" x2="173.50" y2="21.50" stroke="#000" stroke-width="1.0"/>
<line x1="173.50" y1="317.50" x2="173.50" y2="313.50" stroke="#000" stroke-width="1.0"/>
<line x1="173.50" y1="317.50" x2="173.50" y2="320.00" stroke="#000" stroke-width="1.0"/>
<line x1="173.50" y1="477.50" x2="173.50" y2="475.00" stroke="#000" stroke-width="1.0"/>
<line x1="180.50" y1="17.50" x2="180.50" y2="19.50" stroke="#000" stroke-width="1.0"/>
<line x1="180.50" y1="317.50" x2="180.50" y2="315.50" stroke="#000" stroke-width="1.0"/>
<line x1="180.50" y1="317.50" x2="180.50" y2="318.80" stroke="#000" stroke-width="1.0"/>
<line x1="180.50" y1="477.50" x2="180.50" y2="476.20" stroke="#000" stroke-width="1.0"/>
<line x1="187.50" y1="17.50" x2="187.50" y2="21.50" stroke="#000" stroke-width="1.0"/>
<line x1="187.50" y1="317.50" x2="187.50" y2="313.50" stroke="#000" stroke-width="1.0"/>
<line x1="187.50" y1="317.50" x2="187.50" y2="320.00" stroke="#000" stroke-width="1.0"/>
<line x1="187.50" y1="477.50" x2="187.50" y2="475.00" stroke="#000" stroke-width="1.0"/>
<line x1="194.50" y1="17.50" x2="194.50" y2="19.50" stroke="#000" stroke-width="1.0"/>
<line x1="194.50" y1="317.50" x2="194.50" y2="315.50" stroke="#000" stroke-width="1.0"/>
<line x1="194.50" y1="317.50" x2="194.50" y2="318.80" stroke="#000" stroke-width="1.0"/>
<line x1="194.50" y1="477.50" x2="194.50" y2="476.20" stroke="#000" stroke-width="1.0"/>
<line x1="201.50" y1="17.50" x2="201.50" y2="25.50" stroke="#000" stroke-width="1.0"/>
<line x1="201.50" y1="317.50" x2="201.50" y2="309.50" stroke="#000" stroke-width="1.0"/>
<line x1="201.50" y1="317.50" x2="201.50" y2="322.50" stroke="#000" stroke-width="1.0"/>
<line x1="201.50" y1="477.50" x2="201.50" y2="472.50" stroke="#000" stroke-width="1.0"/>
<line x1="208.50" y1="17.50" x2="208.50" y2="19.50" stroke="#000" stroke-width="1.0"/>
<line x1="208.50" y1="317.50" x2="208.50" y2="315.50" stroke="#000" stroke-width="1.0"/>
<line x1="208.50" y1="317.50" x2="208.50" y2="318.80" stroke="#000" stroke-width="1.0"/>
<line x1="208.50" y1="477.50" x2="208.50" y2="476.20" stroke="#000" stroke-width="1.0"/>
<line x1="215.50" y1="17.50" x2="215.50" y2="21.50" stroke="#000" stroke-width="1.0"/>
<line x1="215.50" y1="317.50" x2="215.50" y2="313.50" stroke="#000" stroke-width="1.0"/>
<line x1="215.50" y1="317.50" x2="215.50" y2="320.00" stroke="#000" stroke-width="1.0"/>
<line x1="215.50" y1="477.50" x2="215.50" y2="475.00" stroke="#000" stroke-width="1.0"/>
<line x1="222.50" y1="17.50" x2="222.50" y2="19.50" stroke="#000" stroke-width="1.0"/>
<line x1="222.50" y1="317.50" x2="222.50" y2="315.50" stroke="#000" stroke-width="1.0"/>
<line x1="222.50" y1="317.50" x2="222.50" y2="318.80" stroke="#000" stroke-width="1.0"/>
<line x1="222.50" y1="477.50" x2="222.50" y2="476.20" stroke="#000" stroke-width="1.0"/>
<line x1="229.50" y1="17.50" x2="229.50" y2="21.50" stroke="#000" stroke-width="1.0"/>
<line x1="229.50" y1="317.50" x2="229.50" y2="313.50" stroke="#000" stroke-width="1.0"/>
<line x1="229.50" y1="317.50" x2="229.50" y2="320.00" stroke="#000" stroke-width="1.0"/>
<line x1="229.50" y1="477.50" x2="229.50" y2="475.00" stroke="#000" stroke-width="1.0"/>
<line x1="237.50" y1="17.50" x2="237.50" y2="19.50" stroke="#000" stroke-width="1.0"/>
<line x1="237.50" y1="317.50" x2="237.50" y2="315.50" stroke="#000" stroke-width="1.0"/>
<line x1="237.50" y1="317.50" x2="237.50" y2="318.80" stroke="#000" stroke-width="1.0"/>
<line x1="237.50" y1="477.50" x2="237.50" y2="476.20" stroke="#000" stroke-width="1.0"/>
<line x1="244.50" y1="17.50" x2="244.50" y2="21.50" stroke="#000" stroke-width="1.0"/>
<line x1="244.50" y1="317.50" x2="244.50" y2="313.50" stroke="#000" stroke-width="1.0"/>
<line x1="244.50" y1="317.50" x2="244.50" y2="320.00" stroke="#000" stroke-width="1.0"/>
<line x1="244.50" y1="477.50" x2="244.50" y2="475.00" stroke="#000" stroke-width="1.0"/>
<line x1="251.50" y1="17.50" x2="251.50" y2="19.50" stroke="#000" stroke-width="1.0"/>
<line x1="251.50" y1="317.50" x2="251.50" y2="315.50" stroke="#000" stroke-width="1.0"/>
<line x1="251.50" y1="317.50" x2="251.50" y2="318.80" stroke="#000" stroke-width="1.0"/>
<line x1="251.50" y1="477.50" x2="251.50" y2="476.20" stroke="#000" stroke-width="1.0"/>
<line x1="258.50" y1="17.50" x2="258.50" y2="21.50" stroke="#000" stroke-width="1.0"/>
<line x1="258.50" y1="317.50" x2="258.50" y2="313.50" stroke="#000" stroke-width="1.0"/>
<line x1="258.50" y1="317.50" x2="258.50" y2="320.00" stroke="#000" stroke-width="1.0"/>
<line x1="258.50" y1="477.50" x2="258.50" y2="475.00" stroke="#000" stroke-width="1.0"/>
<line x1="265.50" y1="17.50" x2="265.50" y2="19.50" stroke="#000" stroke-width="1.0"/>
<line x1="265.50" y1="317.50" x2="265.50" y2="315.50" stroke="#000" stroke-width="1.0"/>
<line x1="265.50" y1="317.50" x2="265.50" y2="318.80" stroke="#000" stroke-width="1.0"/>
<line x1="265.50" y1="477.50" x2="265.50" y2="476.20" stroke="#000" stroke-width="1.0"/>
<line x1="272.50" y1="17.50" x2="272.50" y2="25.50" stroke="#000" stroke-width="1.0"/>
<line x1="272.50" y1="317.50" x2="272.50" y2="309.50" stroke="#000" stroke-width="1.0"/>
<line x1="272.50" y1="317.50" x2="272.50" y2="322.50" stroke="#000" stroke-width="1.0"/>
<line x1="272.50" y1="477.50" x2="272.50" y2="472.50" stroke="#000" stroke-width="1.0"/>
<line x1="279.50" y1="17.50" x2="279.50" y2="19.50" stroke="#000" stroke-width="1.0"/>
<line x1="279.50" y1="317.50" x2="279.50" y2="315.50" stroke="#000" stroke-width="1.0"/>
<line x1="279.50" y1="317.50" x2="279.50" y2="318.80" stroke="#000" stroke-width="1.0"/>
<line x1="279.50" y1="477.50" x2="279.50" y2="476.20" stroke="#000" stroke-width="1.0"/>
<line x1="286.50" y1="17.50" x2="286.50" y2="21.50" stroke="#000" stroke-width="1.0"/>
<line x1="286.50" y1="317.50" x2="286.50" y2="313.50" stroke="#000" stroke-width="1.0"/>
<line x1="286.50" y1="317.50" x2="286.50" y2="320.00" stroke="#000" stroke-width="1.0"/>
<line x1="286.50" y1="477.50" x2="286.50" y2="475.00" stroke="#000" stroke-width="1.0"/>
<line x1="293.50" y1="17.50" x2="293.50" y2="19.50" stroke="#000" stroke-width="1.0"/>
<line x1="293.50" y1="317.50" x2="293.50" y2="315.50" stroke="#000" stroke-width="1.0"/>
<line x1="293.50" y1="317.50" x2="293.50" y2="318.80" stroke="#000" stroke-width="1.0"/>
<line x1="293.50" y1="477.50" x2="293.50" y2="476.20" stroke="#000" stroke-width="1.0"/>
<line x1="301.50" y1="17.50" x2="301.50" y2="21.50" stroke="#000" stroke-width="1.0"/>
<line x1="301.50" y1="317.50" x2="301.50" y2="313.50" stroke="#000" stroke-width="1.0"/>
<line x1="301.50" y1="317.50" x2="301.50" y2="320.00" stroke="#000" stroke-width="1.0"/>
<line x1="301.50" y1="477.50" x2="301.50" y2="475.00" stroke="#000" stroke-width="1.0"/>
<line x1="308.50" y1="17.50" x2="308.50" y2="19.50" stroke="#000" stroke-width="1.0"/>
<line x1="308.50" y1="317.50" x2="308.50" y2="315.50" stroke="#000" stroke-width="1.0"/>
<line x1="308.50" y1="317.50" x2="308.50" y2="318.80" stroke="#000" stroke-width="1.0"/>
<line x1="308.50" y1="477.50" x2="308.50" y2="476.20" stroke="#000" stroke-width="1.0"/>
<line x1="315.50" y1="17.50" x2="315.50" y2="21.50" stroke="#000" stroke-width="1.0"/>
<line x1="315.50" y1="317.50" x2="315.50" y2="313.50" stroke="#000" stroke-width="1.0"/>
<line x1="315.50" y1="317.50" x2="315.50" y2="320.00" stroke="#000" stroke-width="1.0"/>
<line x1="315.50" y1="477.50" x2="315.50" y2="475.00" stroke="#000" stroke-width="1.0"/>
<line x1="322.50" y1="17.50" x2="322.50" y2="19.50" stroke="#000" stroke-width="1.0"/>
<line x1="322.50" y1="317.50" x2="322.50" y2="315.50" stroke="#000" stroke-width="1.0"/>
<line x1="322.50" y1="317.50" x2="322.50" y2="318.80" stroke="#000" stroke-width="1.0"/>
<line x1="322.50" y1="477.50" x2="322.50" y2="476.20" stroke="#000" stroke-width="1.0"/>
<line x1="329.50" y1="17.50" x2="329.50" y2="21.50" stroke="#000" stroke-width="1.0"/>
<line x1="329.50" y1="317.50" x2="329.50" y2="313.50" stroke="#000" stroke-width="1.0"/>
<line x1="329.50" y1="317.50" x2="329.50" y2="320.00" stroke="#000" stroke-width="1.0"/>
<line x1="329.50" y1="477.50" x2="329.50" y2="475.00" stroke="#000" stroke-width="1.0"/>
<line x1="336.50" y1="17.50" x2="336.50" y2="19.50" stroke="#000" stroke-width="1.0"/>
<line x1="336.50" y1="317.50" x2="336.50" y2="315.50" stroke="#000" stroke-width="1.0"/>
<line x1="336.50" y1="317.50" x2="336.50" y2="318.80" stroke="#000" stroke-width="1.0"/>
<line x1="336.50" y1="477.50" x2="336.50" y2="476.20" stroke="#000" stroke-width="1.0"/>
<line x1="343.50" y1="17.50" x2="343.50" y2="25.50" stroke="#000" stroke-width="1.0"/>
<line x1="343.50" y1="317.50" x2="343.50" y2="309.50" stroke="#000" stroke-width="1.0"/>
<line x1="343.50" y1="317.50" x2="343.50" y2="322.50" stroke="#000" stroke-width="1.0"/>
<line x1="343.50" y1="477.50" x2="343.50" y2="472.50" stroke="#000" stroke-width="1.0"/>
<line x1="350.50" y1="17.50" x2="350.50" y2="19.50" stroke="#000" stroke-width="1.0"/>
<line x1="350.50" y1="317.50" x2="350.50" y2="315.50" stroke="#000" stroke-width="1.0"/>
<line x1="350.50" y1="317.50" x2="350.50" y2="318.80" stroke="#000" stroke-width="1.0"/>
<line x1="350.50" y1="477.50" x2="350.50" y2="476.20" stroke="#000" stroke-width="1.0"/>
<line x1="357.50" y1="17.50" x2="357.50" y2="21.50" stroke="#000" stroke-width="1.0"/>
<line x1="357.50" y1="317.50" x2="357.50" y2="313.50" stroke="#000" stroke-width="1.0"/>
<line x1="357.50" y1="317.50" x2="357.50" y2="320.00" stroke="#000" stroke-width="1.0"/>
<line x1="357.50" y1="477.50" x2="357.50" y2="475.00" stroke="#000" stroke-width="1.0"/>
<line x1="365.50" y1="17.50" x2="365.50" y2="19.50" stroke="#000" stroke-width="1.0"/>
<line x1="365.50" y1="317.50" x2="365.50" y2="315.50" stroke="#000" stroke-width="1.0"/>
<line x1="365.50" y1="317.50" x2="365.50" y2="318.80" stroke="#000" stroke-width="1.0"/>
<line x1="365.50" y1="477.50" x2="365.50" y2="476.20" stroke="#000" stroke-width="1.0"/>
<line x1="45.50" y1="309.50" x2="51.50" y2="309.50" stroke="#000" stroke-width="1.0"/>
<line x1="371.50" y1="309.50" x2="365.50" y2="309.50" stroke="#000" stroke-width="1.0"/>
<line x1="45.50" y1="299.50" x2="51.50" y2="299.50" stroke="#000" stroke-width="1.0"/>
<line x1="371.50" y1="299.50" x2="365.50" y2="299.50" stroke="#000" stroke-width="1.0"/>
<line x1="45.50" y1="292.50" x2="51.50" y2="292.50" stroke="#000" stroke-width="1.0"/>
<line x1="371.50" y1="292.50" x2="365.50" y2="292.50" stroke="#000" stroke-width="1.0"/>
<line x1="45.50" y1="286.50" x2="51.50" y2="286.50" stroke="#000" stroke-width="1.0"/>
<line x1="371.50" y1="286.50" x2="365.50" y2="286.50" stroke="#000" stroke-width="1.0"/>
<line x1="45.50" y1="282.50" x2="51.50" y2="282.50" stroke="#000" stroke-width="1.0"/>
<line x1="371.50" y1="282.50" x2="365.50" y2="282.50" stroke="#000" stroke-width="1.0"/>
<line x1="45.50" y1="278.50" x2="51.50" y2="278.50" stroke="#000" stroke-width="1.0"/>
<line x1="371.50" y1="278.50" x2="365.50" y2="278.50" stroke="#000" stroke-width="1.0"/>
<line x1="45.50" y1="275.50" x2="51.50" y2="275.50" stroke="#000" stroke-width="1.0"/>
<line x1="371.50" y1="275.50" x2="365.50" y2="275.50" stroke="#000" stroke-width="1.0"/>
<line x1="45.50" y1="272.50" x2="51.50" y2="272.50" stroke="#000" stroke-width="1.0"/>
<line x1="371.50" y1="272.50" x2="365.50" y2="272.50" stroke="#000" stroke-width="1.0"/>
<line x1="45.50" y1="269.50" x2="56.50" y2="269.50" stroke="#000" stroke-width="1.0"/>
<line x1="371.50" y1="269.50" x2="360.50" y2="269.50" stroke="#000" stroke-width="1.0"/>
<line x1="45.50" y1="252.50" x2="51.50" y2="252.50" stroke="#000" stroke-width="1.0"/>
<line x1="371.50" y1="252.50" x2="365.50" y2="252.50" stroke="#000" stroke-width="1.0"/>
<line x1="45.50" y1="242.50" x2="51.50" y2="242.50" stroke="#000" stroke-width="1.0"/>
<line x1="371.50" y1="242.50" x2="365.50" y2="242.50" stroke="#000" stroke-width="1.0"/>
<line x1="45.50" y1="234.50" x2="51.50" y2="234.50" stroke="#000" stroke-width="1.0"/>
<line x1="371.50" y1="234.50" x2="365.50" y2="234.50" stroke="#000" stroke-width="1.0"/>
<line x1="45.50" y1="229.50" x2="51.50" y2="229.50" stroke="#000" stroke-width="1.0"/>
<line x1="371.50" y1="229.50" x2="365.50" y2="229.50" stroke="#000" stroke-width="1.0"/>
<line x1="45.50" y1="224.50" x2="51.50" y2="224.50" stroke="#000" stroke-width="1.0"/>
<line x1="371.50" y1="224.50" x2="365.50" y2="224.50" stroke="#000" stroke-width="1.0"/>
<line x1="45.50" y1="220.50" x2="51.50" y2="220.50" stroke="#000" stroke-width="1.0"/>
<line x1="371.50" y1="220.50" x2="365.50" y2="220.50" stroke="#000" stroke-width="1.0"/>
<line x1="45.50" y1="217.50" x2="51.50" y2="217.50" stroke="#000" stroke-width="1.0"/>
<line x1="371.50" y1="217.50" x2="365.50" y2="217.50" stroke="#000" stroke-width="1.0"/>
<line x1="45.50" y1="214.50" x2="51.50" y2="214.50" stroke="#000" stroke-width="1.0"/>
<line x1="371.50" y1="214.50" x2="365.50" y2="214.50" stroke="#000" stroke-width="1.0"/>
<line x1="45.50" y1="211.50" x2="56.50" y2="211.50" stroke="#000" stroke-width="1.0"/>
<line x1="371.50" y1="211.50" x2="360.50" y2="211.50" stroke="#000" stroke-width="1.0"/>
<line x1="45.50" y1="194.50" x2="51.50" y2="194.50" stroke="#000" stroke-width="1.0"/>
<line x1="371.50" y1="194.50" x2="365.50" y2="194.50" stroke="#000" stroke-width="1.0"/>
<line x1="45.50" y1="184.50" x2="51.50" y2="184.50" stroke="#000" stroke-width="1.0"/>
<line x1="371.50" y1="184.50" x2="365.50" y2="184.50" stroke="#000" stroke-width="1.0"/>
<line x1="45.50" y1="177.50" x2="51.50" y2="177.50" stroke="#000" stroke-width="1.0"/>
<line x1="371.50" y1="177.50" x2="365.50" y2="177.50" stroke="#000" stroke-width="1.0"/>
<line x1="45.50" y1="171.50" x2="51.50" y2="171.50" stroke="#000" stroke-width="1.0"/>
<line x1="371.50" y1="171.50" x2="365.50" y2="171.50" stroke="#000" stroke-width="1.0"/>
<line x1="45.50" y1="167.50" x2="51.50" y2="167.50" stroke="#000" stroke-width="1.0"/>
<line x1="371.50" y1="167.50" x2="365.50" y2="167.50" stroke="#000" stroke-width="1.0"/>
<line x1="45.50" y1="163.50" x2="51.50" y2="163.50" stroke="#000" stroke-width="1.0"/>
<line x1="371.50" y1="163.50" x2="365.50" y2="163.50" stroke="#000" stroke-width="1.0"/>
<line x1="45.50" y1="159.50" x2="51.50" y2="159.50" stroke="#000" stroke-width="1.0"/>
<line x1="371.50" y1="159.50" x2="365.50" y2="159.50" stroke="#000" stroke-width="1.0"/>
<line x1="45.50" y1="156.50" x2="51.50" y2="156.50" stroke="#000" stroke-width="1.0"/>
<line x1="371.50" y1="156.50" x2="365.50" y2="156.50" stroke="#000" stroke-width="1.0"/>
<line x1="45.50" y1="154.50" x2="56.50" y2="154.50" stroke="#000" stroke-width="1.0"/>
<line x1="371.50" y1="154.50" x2="360.50" y2="154.50" stroke="#000" stroke-width="1.0"/>
<line x1="45.50" y1="136.50" x2="51.50" y2="136.50" stroke="#000" stroke-width="1.0"/>
<line x1="371.50" y1="136.50" x2="365.50" y2="136.50" stroke="#000" stroke-width="1.0"/>
<line x1="45.50" y1="126.50" x2="51.50" y2="126.50" stroke="#000" stroke-width="1.0"/>
<line x1="371.50" y1="126.50" x2="365.50" y2="126.50" stroke="#000" stroke-width="1.0"/>
<line x1="45.50" y1="119.50" x2="51.50" y2="119.50" stroke="#000" stroke-width="1.0"/>
<line x1="371.50" y1="119.50" x2="365.50" y2="119.50" stroke="#000" stroke-width="1.0"/>
<line x1="45.50" y1="113.50" x2="51.50" y2="113.50" stroke="#000" stroke-width="1.0"/>
<line x1="371.50" y1="113.50" x2="365.50" y2="113.50" stroke="#000" stroke-width="1.0"/>
<line x1="45.50" y1="109.50" x2="51.50" y2="109.50" stroke="#000" stroke-width="1.0"/>
<line x1="371.50" y1="109.50" x2="365.50" y2="109.50" stroke="#000" stroke-width="1.0"/>
<line x1="45.50" y1="105.50" x2="51.50" y2="105.50" stroke="#000" stroke-width="1.0"/>
<line x1="371.50" y1="105.50" x2="365.50" y2="105.50" stroke="#000" stroke-width="1.0"/>
<line x1="45.50" y1="102.50" x2="51.50" y2="102.50" stroke="#000" stroke-width="1.0"/>
<line x1="371.50" y1="102.50" x2="365.50" y2="102.50" stroke="#000" stroke-width="1.0"/>
<line x1="45.50" y1="99.50" x2="51.50" y2="99.50" stroke="#000" stroke-width="1.0"/>
<line x1="371.50" y1="99.50" x2="365.50" y2="99.50" stroke="#000" stroke-width="1.0"/>
<line x1="45.50" y1="96.50" x2="56.50" y2="96.50" stroke="#000" stroke-width="1.0"/>
<line x1="371.50" y1="96.50" x2="360.50" y2="96.50" stroke="#000" stroke-width="1.0"/>
<line x1="45.50" y1="79.50" x2="51.50" y2="79.50" stroke="#000" stroke-width="1.0"/>
<line x1="371.50" y1="79.50" x2="365.50" y2="79.50" stroke="#000" stroke-width="1.0"/>
<line x1="45.50" y1="68.50" x2="51.50" y2="68.50" stroke="#000" stroke-width="1.0"/>
<line x1="371.50" y1="68.50" x2="365.50" y2="68.50" stroke="#000" stroke-width="1.0"/>
<line x1="45.50" y1="61.50" x2="51.50" y2="61.50" stroke="#000" stroke-width="1.0"/>
<line x1="371.50" y1="61.50" x2="365.50" y2="61.50" stroke="#000" stroke-width="1.0"/>
<line x1="45.50" y1="56.50" x2="51.50" y2="56.50" stroke="#000" stroke-width="1.0"/>
<line x1="371.50" y1="56.50" x2="365.50" y2="56.50" stroke="#000" stroke-width="1.0"/>
<line x1="45.50" y1="51.50" x2="51.50" y2="51.50" stroke="#000" stroke-width="1.0"/>
<line x1="371.50" y1="51.50" x2="365.50" y2="51.50" stroke="#000" stroke-width="1.0"/>
<line x1="45.50" y1="47.50" x2="51.50" y2="47.50" stroke="#000" stroke-width="1.0"/>
<line x1="371.50" y1="47.50" x2="365.50" y2="47.50" stroke="#000" stroke-width="1.0"/>
<line x1="45.50" y1="44.50" x2="51.50" y2="44.50" stroke="#000" stroke-width="1.0"/>
<line x1="371.50" y1="44.50" x2="365.50" y2="44.50" stroke="#000" stroke-width="1.0"/>
<line x1="45.50" y1="41.50" x2="51.50" y2="41.50" stroke="#000" stroke-width="1.0"/>
<line x1="371.50" y1="41.50" x2="365.50" y2="41.50" stroke="#000" stroke-width="1.0"/>
<line x1="45.50" y1="38.50" x2="56.50" y2="38.50" stroke="#000" stroke-width="1.0"/>
<line x1="371.50" y1="38.50" x2="360.50" y2="38.50" stroke="#000" stroke-width="1.0"/>
<line x1="45.50" y1="21.50" x2="51.50" y2="21.50" stroke="#000" stroke-width="1.0"/>
<line x1="371.50" y1="21.50" x2="365.50" y2="21.50" stroke="#000" stroke-width="1.0"/>
<line x1="45.50" y1="459.50" x2="52.50" y2="459.50" stroke="#000" stroke-width="1.0"/>
<line x1="371.50" y1="459.50" x2="364.50" y2="459.50" stroke="#000" stroke-width="1.0"/>
<line x1="45.50" y1="443.50" x2="50.50" y2="443.50" stroke="#000" stroke-width="1.0"/>
<line x1="371.50" y1="443.50" x2="366.50" y2="443.50" stroke="#000" stroke-width="1.0"/>
<line x1="45.50" y1="429.50" x2="50.50" y2="429.50" stroke="#000" stroke-width="1.0"/>
<line x1="371.50" y1="429.50" x2="366.50" y2="429.50" stroke="#000" stroke-width="1.0"/>
<line x1="45.50" y1="418.50" x2="50.50" y2="418.50" stroke="#000" stroke-width="1.0"/>
<line x1="371.50" y1="418.50" x2="366.50" y2="418.50" stroke="#000" stroke-width="1.0"/>
<line x1="45.50" y1="407.50" x2="50.50" y2="407.50" stroke="#000" stroke-width="1.0"/>
<line x1="371.50" y1="407.50" x2="366.50" y2="407.50" stroke="#000" stroke-width="1.0"/>
<line x1="45.50" y1="398.50" x2="52.50" y2="398.50" stroke="#000" stroke-width="1.0"/>
<line x1="371.50" y1="398.50" x2="364.50" y2="398.50" stroke="#000" stroke-width="1.0"/>
<line x1="45.50" y1="390.50" x2="50.50" y2="390.50" stroke="#000" stroke-width="1.0"/>
<line x1="371.50" y1="390.50" x2="366.50" y2="390.50" stroke="#000" stroke-width="1.0"/>
<line x1="45.50" y1="382.50" x2="50.50" y2="382.50" stroke="#000" stroke-width="1.0"/>
<line x1="371.50" y1="382.50" x2="366.50" y2="382.50" stroke="#000" stroke-width="1.0"/>
<line x1="45.50" y1="375.50" x2="50.50" y2="375.50" stroke="#000" stroke-width="1.0"/>
<line x1="371.50" y1="375.50" x2="366.50" y2="375.50" stroke="#000" stroke-width="1.0"/>
<line x1="45.50" y1="368.50" x2="50.50" y2="368.50" stroke="#000" stroke-width="1.0"/>
<line x1="371.50" y1="368.50" x2="366.50" y2="368.50" stroke="#000" stroke-width="1.0"/>
<line x1="45.50" y1="362.50" x2="52.50" y2="362.50" stroke="#000" stroke-width="1.0"/>
<line x1="371.50" y1="362.50" x2="364.50" y2="362.50" stroke="#000" stroke-width="1.0"/>
<line x1="45.50" y1="357.50" x2="50.50" y2="357.50" stroke="#000" stroke-width="1.0"/>
<line x1="371.50" y1="357.50" x2="366.50" y2="357.50" stroke="#000" stroke-width="1.0"/>
<line x1="45.50" y1="351.50" x2="50.50" y2="351.50" stroke="#000" stroke-width="1.0"/>
<line x1="371.50" y1="351.50" x2="366.50" y2="351.50" stroke="#000" stroke-width="1.0"/>
<line x1="45.50" y1="346.50" x2="50.50" y2="346.50" stroke="#000" stroke-width="1.0"/>
<line x1="371.50" y1="346.50" x2="366.50" y2="346.50" stroke="#000" stroke-width="1.0"/>
<line x1="45.50" y1="342.50" x2="50.50" y2="342.50" stroke="#000" stroke-width="1.0"/>
<line x1="371.50" y1="342.50" x2="366.50" y2="342.50" stroke="#000" stroke-width="1.0"/>
<line x1="45.50" y1="337.50" x2="52.50" y2="337.50" stroke="#000" stroke-width="1.0"/>
<line x1="371.50" y1="337.50" x2="364.50" y2="337.50" stroke="#000" stroke-width="1.0"/>
<line x1="45.50" y1="333.50" x2="50.50" y2="333.50" stroke="#000" stroke-width="1.0"/>
<line x1="371.50" y1="333.50" x2="366.50" y2="333.50" stroke="#000" stroke-width="1.0"/>
<line x1="45.50" y1="329.50" x2="50.50" y2="329.50" stroke="#000" stroke-width="1.0"/>
<line x1="371.50" y1="329.50" x2="366.50" y2="329.50" stroke="#000" stroke-width="1.0"/>
<line x1="45.50" y1="325.50" x2="50.50" y2="325.50" stroke="#000" stroke-width="1.0"/>
<line x1="371.50" y1="325.50" x2="366.50" y2="325.50" stroke="#000" stroke-width="1.0"/>
<line x1="45.50" y1="321.50" x2="50.50" y2="321.50" stroke="#000" stroke-width="1.0"/>
<line x1="371.50" y1="321.50" x2="366.50" y2="321.50" stroke="#000" stroke-width="1.0"/>
<line x1="45.50" y1="317.50" x2="50.50" y2="317.50" stroke="#000" stroke-width="1.0"/>
<line x1="371.50" y1="317.50" x2="366.50" y2="317.50" stroke="#000" stroke-width="1.0"/>
<rect x="45.5" y="17.5" width="326.0" height="300.0" fill="none" stroke="#000" stroke-width="1"/>
<rect x="45.5" y="317.5" width="326.0" height="160.0" fill="none" stroke="#000" stroke-width="1"/>
<line x1="45.50" y1="478.10" x2="371.50" y2="478.10" stroke="#000" stroke-width="1.2"/>
<rect x="73.70" y="221.00" width="5.80" height="5.80" fill="#000"/><line x1="64" y1="237.20" x2="88.7" y2="237.20" stroke="#a31a2e" stroke-width="1.1"/><polygon points="73.30,240.20 79.50,240.20 76.40,234.20" fill="none" stroke="#a31a2e" stroke-width="1.2"/><line x1="64" y1="250.20" x2="88.7" y2="250.20" stroke="#7a3f5e" stroke-width="1.1" stroke-dasharray="3.6,2,1,2"/><rect x="74.30" y="248.10" width="4.20" height="4.20" fill="#fff" stroke="#7a3f5e" stroke-width="1.3"/><line x1="64" y1="263.20" x2="88.7" y2="263.20" stroke="#ff7a2e" stroke-width="1.1" stroke-dasharray="3.6,2,1,2"/><rect x="74.25" y="261.05" width="4.30" height="4.30" fill="#ff7a2e"/><line x1="64" y1="276.20" x2="88.7" y2="276.20" stroke="#0000e6" stroke-width="1.1"/><polygon points="73.70,278.90 79.10,278.90 76.40,273.50" fill="#0000e6"/>
<text x="51.40" y="13.70" font-size="12" fill="#000" text-anchor="start" textLength="78.00" lengthAdjust="spacing">13000 GeV pp</text><text x="334.80" y="14.00" font-size="12" fill="#000" text-anchor="start" textLength="30.00" lengthAdjust="spacing">Z+Jet</text><text x="73.50" y="41.90" font-size="12" fill="#000" text-anchor="start" textLength="270.20" lengthAdjust="spacing">Transmin region, 120 &lt; p<tspan font-size="8.2" dx="-2.4" dy="-4.9">Z</tspan><tspan font-size="8.2" dx="-5.2" dy="11.6">T</tspan><tspan dy="-6.7"> &lt; 200 [GeV], high thrust</tspan></text><text x="40.8" y="42.9" font-size="11" text-anchor="end">10</text><text x="40.8" y="99.8" font-size="11" text-anchor="end">1</text><text x="41.4" y="159.10" font-size="11" text-anchor="end">10<tspan font-size="7.5" dx="-0.6" dy="-4.5">&#8722;1</tspan></text><text x="41.4" y="216.80" font-size="11" text-anchor="end">10<tspan font-size="7.5" dx="-0.6" dy="-4.5">&#8722;2</tspan></text><text x="41.4" y="274.50" font-size="11" text-anchor="end">10<tspan font-size="7.5" dx="-0.6" dy="-4.5">&#8722;3</tspan></text><text x="38.8" y="341.0" font-size="11" text-anchor="end">2</text><text x="38.8" y="402.0" font-size="11" text-anchor="end">1</text><text x="21.4" y="462.0" font-size="11" textLength="16.6" lengthAdjust="spacing">0.5</text><text x="373.5" y="341.0" font-size="11">2</text><text x="373.5" y="402.5" font-size="11">1</text><text x="373.3" y="461.6" font-size="11" textLength="16.4" lengthAdjust="spacing">0.5</text><text x="59.08" y="489.0" font-size="11" text-anchor="middle">0</text><text x="130.20" y="489.0" font-size="11" text-anchor="middle">1</text><text x="201.32" y="489.0" font-size="11" text-anchor="middle">2</text><text x="272.44" y="489.0" font-size="11" text-anchor="middle">3</text><text x="343.57" y="489.0" font-size="11" text-anchor="middle">4</text><text x="317.70" y="503.00" font-size="12.5" fill="#000" text-anchor="start" textLength="51.40" lengthAdjust="spacing">N<tspan font-size="8.5" dy="3.6">ch</tspan><tspan dy="-3.6">/d&#951; d&#966;</tspan></text><text transform="translate(14.40,131.70) rotate(-90)" font-size="11.5" fill="#000" textLength="111.40" lengthAdjust="spacing">1/N<tspan font-size="8" dy="4">ev</tspan><tspan dy="-4"> dN</tspan><tspan font-size="8" dy="4">ev</tspan><tspan dy="-4">/dN</tspan><tspan font-size="8" dy="4">ch</tspan><tspan dy="-4">/d&#951; d&#966;</tspan></text><text transform="translate(16.80,427.40) rotate(-90)" font-size="9.2" fill="#000" textLength="61.80" lengthAdjust="spacing">Ratio to ATLAS</text><text transform="translate(379.90,127.40) rotate(-90)" font-size="9.6" fill="#666" textLength="110.00" lengthAdjust="spacing">Rivet 4.1.0, &#8805; 2.1M events</text><text transform="translate(380.80,313.30) rotate(-90)" font-size="9.5" fill="#666" textLength="141.80" lengthAdjust="spacing">mcplots.cern.ch [arXiv:1306.3436]</text><text x="93.80" y="226.90" font-size="9.7" fill="#000" text-anchor="start" textLength="30.00" lengthAdjust="spacing">ATLAS</text><text x="94.30" y="239.93" font-size="9.7" fill="#000" text-anchor="start" textLength="71.00" lengthAdjust="spacing">Pythia 6.428 370</text><text x="94.30" y="252.96" font-size="9.7" fill="#000" text-anchor="start" textLength="70.00" lengthAdjust="spacing">Pythia 6.428 391</text><text x="94.50" y="265.99" font-size="9.7" fill="#000" text-anchor="start" textLength="83.00" lengthAdjust="spacing">Pythia 6.428 default</text><text x="94.30" y="279.02" font-size="9.7" fill="#000" text-anchor="start" textLength="83.20" lengthAdjust="spacing">Pythia 8.315 default</text><text x="163.00" y="301.30" font-size="8.6" fill="#999" text-anchor="start" textLength="88.80" lengthAdjust="spacing">(ATLAS_2019_I1736531)</text>
</svg>
</body></html>
